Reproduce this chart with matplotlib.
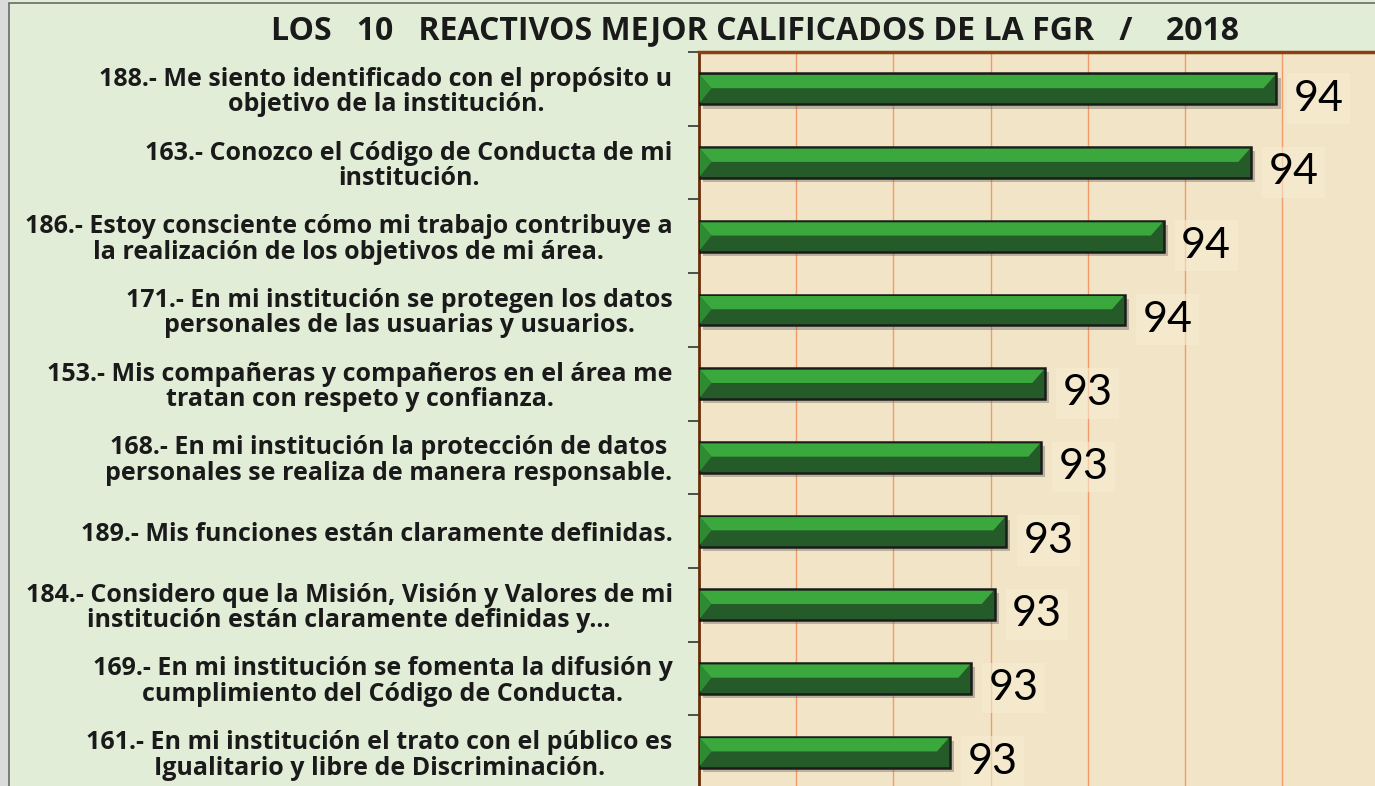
import matplotlib
matplotlib.use("Agg")
import matplotlib.pyplot as plt
from matplotlib.patches import Polygon, Rectangle
import matplotlib.patheffects as pe

title = "LOS   10   REACTIVOS MEJOR CALIFICADOS DE LA FGR   /    2018"

items = [
    "188.- Me siento identificado con el propósito u\nobjetivo de la institución.",
    "163.- Conozco el Código de Conducta de mi\ninstitución.",
    "186.- Estoy consciente cómo mi trabajo contribuye a\nla realización de los objetivos de mi área.",
    "171.- En mi institución se protegen los datos\npersonales de las usuarias y usuarios.",
    "153.- Mis compañeras y compañeros en el área me\ntratan con respeto y confianza.",
    "168.- En mi institución la protección de datos\npersonales se realiza de manera responsable.",
    "189.- Mis funciones están claramente definidas.",
    "184.- Considero que la Misión, Visión y Valores de mi\ninstitución están claramente definidas y...",
    "169.- En mi institución se fomenta la difusión y\ncumplimiento del Código de Conducta.",
    "161.- En mi institución el trato con el público es\nIgualitario y libre de Discriminación.",
]
values = [94.47, 94.34, 93.89, 93.69, 93.28, 93.26, 93.08, 93.02, 92.90, 92.79]

XMIN, XMAX = 91.5, 94.977
GRID_STEP = 0.5

W, H = 1375, 786
fig = plt.figure(figsize=(W / 100, H / 100), dpi=100)
fig.patch.set_facecolor("#E2EDD8")

# left strip and border
fig.add_artist(Rectangle((0, 0), 9 / W, 1, transform=fig.transFigure,
                         facecolor="#D9DCDA", edgecolor="none", zorder=0))
fig.add_artist(Rectangle((9 / W, -0.01), 1, 1 - 3 / H + 0.01, transform=fig.transFigure,
                         facecolor="none", edgecolor="#6b6b6b", linewidth=1.2, zorder=5))

ax = fig.add_axes([699 / W, -0.0038, 1 - 699 / W, 0.9375])
ax.set_facecolor("#F2E4C6")
ax.set_xlim(XMIN, XMAX)
n = len(items)
ax.set_ylim(n - 0.5, -0.5)

# grid
gx = []
g = XMIN + GRID_STEP
while g < XMAX:
    gx.append(g)
    g += GRID_STEP
ax.set_xticks(gx)
ax.tick_params(axis="x", length=0, labelbottom=False)
ax.grid(axis="x", color="#F29A6A", linewidth=1.0, zorder=0)
ax.set_axisbelow(True)

for s in ["right", "bottom"]:
    ax.spines[s].set_visible(False)
ax.spines["left"].set_color("#6B2E0A")
ax.spines["left"].set_linewidth(2.0)
ax.spines["top"].set_color("#8B3E12")
ax.spines["top"].set_linewidth(2.5)

# y ticks: labels at centers, tick marks at boundaries
ax.set_yticks(range(n))
ax.set_yticklabels(items, fontsize=18, fontweight="bold", family="Open Sans",
                   multialignment="center", color="#1a1a1a", linespacing=1.02)
ax.tick_params(axis="y", which="major", length=0, pad=19)
ax.set_yticks([i + 0.5 for i in range(-1, n)], minor=True)
ax.tick_params(axis="y", which="minor", length=8, width=1.2, color="#333333", direction="out")

h = 0.42
d = 0.06
ys = list(range(n))
bars = ax.barh(ys, [v - XMIN for v in values], left=XMIN, height=h,
               color="#245B29", edgecolor="#1b1b1b", linewidth=1.8, zorder=3)
for b in bars:
    b.set_path_effects([pe.SimplePatchShadow(offset=(3, -3), shadow_rgbFace="#555555", alpha=0.35),
                        pe.Normal()])

for y, v in zip(ys, values):
    top = y - h / 2 + 0.02
    mid = y - 0.01
    bot = y + h / 2 - 0.02
    x0 = XMIN + 0.004
    x1 = v - 0.006
    light = Polygon([(x0, top), (x1, top), (x1 - d, mid), (x0 + d, mid)], closed=True,
                    facecolor="#3AA83C", edgecolor="none", zorder=4)
    ax.add_patch(light)
    left_tri = Polygon([(x0, top), (x0 + d, mid), (x0, bot)], closed=True,
                       facecolor="#2E8A33", edgecolor="none", zorder=4)
    ax.add_patch(left_tri)
    ax.text(v + 0.09, y + 0.13, f"{v:.0f}", fontsize=31, family="Lato",
            va="center", ha="left", color="#000000", zorder=6,
            bbox=dict(boxstyle="square,pad=0.15", facecolor="#F6EBD2", edgecolor="none", alpha=0.6))

fig.text(755 / W, 1 - 31 / H, title, ha="center", va="center", fontsize=23,
         fontweight="bold", family="Open Sans", color="#1a1a1a")

fig.savefig("out.png", dpi=100, facecolor=fig.get_facecolor())
